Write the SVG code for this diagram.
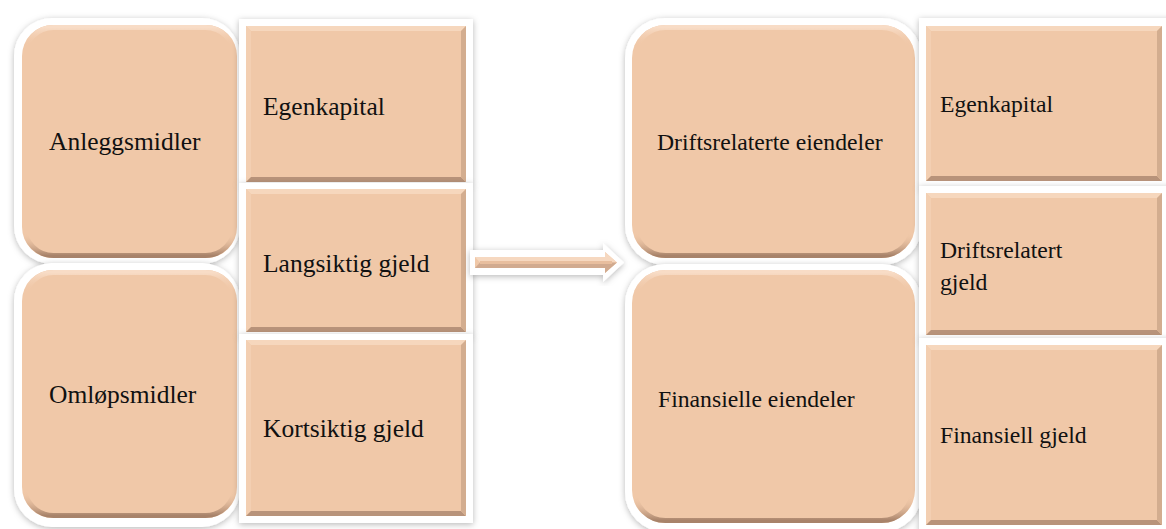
<svg xmlns="http://www.w3.org/2000/svg" width="1166" height="529" viewBox="0 0 1166 529">
  <defs>
    <style>
      .frame { fill: #ffffff; filter: url(#shadow); }
      .face { fill: #F0C8A8; }
      .rim { fill: none; stroke: url(#rimGrad); stroke-width: 5; }
      .bvTop { fill: #F6D7BD; }
      .bvLeft { fill: #F3CFB2; }
      .bvBottom { fill: #B8937A; }
      .bvRight { fill: #D3AD8F; }
      .label { font-family: 'Liberation Serif', 'Times New Roman', serif; font-size: 25.5px; fill: #111111; }
      .label.sm { font-size: 23.7px; }
    </style>
    <filter id="shadow" x="-10%" y="-10%" width="120%" height="120%">
      <feDropShadow dx="0" dy="1.5" stdDeviation="3" flood-color="#000000" flood-opacity="0.28"/>
    </filter>
    <linearGradient id="rimGrad" x1="0" y1="0" x2="0" y2="1">
      <stop offset="0" stop-color="#F8DCC6"/>
      <stop offset="0.08" stop-color="#F0C8A8" stop-opacity="0"/>
      <stop offset="0.9" stop-color="#F0C8A8" stop-opacity="0"/>
      <stop offset="1" stop-color="#A8836A"/>
    </linearGradient>
  </defs>

  <!-- left side: assets -->
  <g id="anleggsmidler">
    <rect class="frame" x="14" y="18" width="226" height="246" rx="38"/>
    <rect class="face" x="22" y="25" width="215" height="233" rx="31"/>
    <rect class="rim" x="24.5" y="27.5" width="210" height="228" rx="29"/>
    <text class="label" x="49" y="150">Anleggsmidler</text>
  </g>
  <g id="omlopsmidler">
    <rect class="frame" x="14" y="263" width="226" height="264" rx="38"/>
    <rect class="face" x="22" y="270" width="215" height="248" rx="31"/>
    <rect class="rim" x="24.5" y="272.5" width="210" height="243" rx="29"/>
    <text class="label" x="49" y="403">Omløpsmidler</text>
  </g>

  <!-- left side: equity and liabilities -->
  <g id="egenkapital-1">
    <rect class="frame" x="239" y="19" width="234" height="165"/>
    <rect class="face" x="246" y="26" width="220" height="156"/>
    <polygon class="bvTop" points="246,26 466,26 461,31 251,31"/>
    <polygon class="bvLeft" points="246,26 251,31 251,177 246,182"/>
    <polygon class="bvBottom" points="246,182 251,177 461,177 466,182"/>
    <polygon class="bvRight" points="466,26 466,182 461,177 461,31"/>
    <text class="label" x="263" y="115">Egenkapital</text>
  </g>
  <g id="langsiktig-gjeld">
    <rect class="frame" x="239" y="183" width="234" height="153"/>
    <rect class="face" x="246" y="189" width="220" height="143"/>
    <polygon class="bvTop" points="246,189 466,189 461,194 251,194"/>
    <polygon class="bvLeft" points="246,189 251,194 251,327 246,332"/>
    <polygon class="bvBottom" points="246,332 251,327 461,327 466,332"/>
    <polygon class="bvRight" points="466,189 466,332 461,327 461,194"/>
    <text class="label" x="263" y="272">Langsiktig gjeld</text>
  </g>
  <g id="kortsiktig-gjeld">
    <rect class="frame" x="239" y="334" width="234" height="189"/>
    <rect class="face" x="246" y="340" width="220" height="176"/>
    <polygon class="bvTop" points="246,340 466,340 461,345 251,345"/>
    <polygon class="bvLeft" points="246,340 251,345 251,511 246,516"/>
    <polygon class="bvBottom" points="246,516 251,511 461,511 466,516"/>
    <polygon class="bvRight" points="466,340 466,516 461,511 461,345"/>
    <text class="label" x="263" y="437">Kortsiktig gjeld</text>
  </g>

  <!-- transition arrow -->
  <g id="connectors">
    <path class="frame" d="M470,250 L603,250 L603,243 L624,262.5 L603,282 L603,275 L470,275 Z"/>
    <path class="face" d="M475,257 L605,257 L605,252 L617,262.5 L605,273 L605,268 L475,268 Z"/>
    <path d="M475,257 L605,257 L605,252 L617,262.5 L612,262.5 L480,262.5 Z" fill="#F6D8C0"/>
    <path d="M475,268 L605,268 L605,273 L617,262.5 L612,262.5 L480,262.5 Z" fill="#C9A288" opacity="0.8"/>
    <path d="M480,262.5 L612,262.5" stroke="#E8BE9E" stroke-width="3"/>
  </g>

  <!-- right side: operating vs financial assets -->
  <g id="driftsrelaterte-eiendeler">
    <rect class="frame" x="625" y="18" width="297" height="247" rx="40"/>
    <rect class="face" x="632" y="25" width="283" height="233" rx="33"/>
    <rect class="rim" x="634.5" y="27.5" width="278" height="228" rx="31"/>
    <text class="label sm" x="657" y="150">Driftsrelaterte eiendeler</text>
  </g>
  <g id="finansielle-eiendeler">
    <rect class="frame" x="625" y="264" width="297" height="268" rx="40"/>
    <rect class="face" x="632" y="270" width="283" height="253" rx="33"/>
    <rect class="rim" x="634.5" y="272.5" width="278" height="248" rx="31"/>
    <text class="label sm" x="658" y="407">Finansielle eiendeler</text>
  </g>

  <!-- right side: equity, operating and financial liabilities -->
  <g id="egenkapital-2">
    <rect class="frame" x="919" y="18" width="260" height="170"/>
    <rect class="face" x="926" y="26" width="236" height="155"/>
    <polygon class="bvTop" points="926,26 1162,26 1157,31 931,31"/>
    <polygon class="bvLeft" points="926,26 931,31 931,176 926,181"/>
    <polygon class="bvBottom" points="926,181 931,176 1157,176 1162,181"/>
    <polygon class="bvRight" points="1162,26 1162,181 1157,176 1157,31"/>
    <text class="label sm" x="940" y="112">Egenkapital</text>
  </g>
  <g id="driftsrelatert-gjeld">
    <rect class="frame" x="919" y="186" width="260" height="154"/>
    <rect class="face" x="926" y="193" width="236" height="142"/>
    <polygon class="bvTop" points="926,193 1162,193 1157,198 931,198"/>
    <polygon class="bvLeft" points="926,193 931,198 931,330 926,335"/>
    <polygon class="bvBottom" points="926,335 931,330 1157,330 1162,335"/>
    <polygon class="bvRight" points="1162,193 1162,335 1157,330 1157,198"/>
    <text class="label sm" x="940" y="258">Driftsrelatert</text>
    <text class="label sm" x="940" y="290">gjeld</text>
  </g>
  <g id="finansiell-gjeld">
    <rect class="frame" x="919" y="338" width="260" height="194"/>
    <rect class="face" x="926" y="345" width="236" height="180"/>
    <polygon class="bvTop" points="926,345 1162,345 1157,350 931,350"/>
    <polygon class="bvLeft" points="926,345 931,350 931,520 926,525"/>
    <polygon class="bvBottom" points="926,525 931,520 1157,520 1162,525"/>
    <polygon class="bvRight" points="1162,345 1162,525 1157,520 1157,350"/>
    <text class="label sm" x="940" y="443">Finansiell gjeld</text>
  </g>
</svg>
